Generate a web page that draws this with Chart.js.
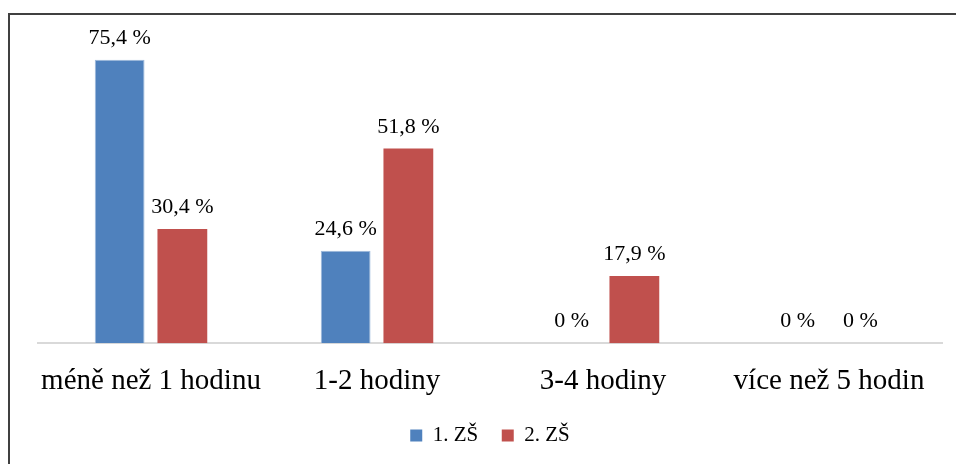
<!DOCTYPE html>
<html>
<head>
<meta charset="utf-8">
<script src="https://cdn.jsdelivr.net/npm/chart.js@4/dist/chart.umd.min.js"></script>
<style>
  html, body { margin: 0; padding: 0; background: #fff; overflow: hidden; }
  #wrap { position: absolute; left: 0; top: 0; width: 956px; height: 464px; }
  #frame { position: absolute; left: 8px; top: 13px; width: 1200px; height: 1200px;
           border-top: 2px solid #404040; border-left: 2px solid #404040; box-sizing: border-box; }
  canvas { position: absolute; left: 0; top: 0; }
</style>
</head>
<body>
<div id="wrap">
  <div id="frame"></div>
  <canvas id="c" width="956" height="464"></canvas>
</div>
<script>
const categories = ["méně než 1 hodinu", "1-2 hodiny", "3-4 hodiny", "více než 5 hodin"];
const seriesNames = ["1. ZŠ", "2. ZŠ"];
const zs1 = [75.4, 24.6, 0, 0];
const zs2 = [30.4, 51.8, 17.9, 0];
const colors = ["#4F81BD", "#C0504D"];

const FONT = "'Liberation Serif', 'Times New Roman', serif";

const labelPlugin = {
  id: 'valueLabels',
  afterDatasetsDraw(chart) {
    const ctx = chart.ctx;
    ctx.save();
    ctx.font = "22px " + FONT;
    ctx.fillStyle = "#000";
    ctx.textAlign = "center";
    ctx.textBaseline = "alphabetic";
    chart.data.datasets.forEach((ds, di) => {
      const meta = chart.getDatasetMeta(di);
      meta.data.forEach((bar, i) => {
        const v = ds.data[i];
        const txt = v.toFixed(1).replace('.', ',').replace(/,0$/, '') + " %";
        ctx.fillText(txt, bar.x, bar.y - 16);
      });
    });
    ctx.restore();
  }
};

new Chart(document.getElementById('c'), {
  type: 'bar',
  data: {
    labels: categories,
    datasets: [
      { label: seriesNames[0], data: zs1, backgroundColor: colors[0], borderColor: "#9DB9DC", borderWidth: {top:1,left:1,right:1,bottom:0},
        categoryPercentage: 0.555, barPercentage: 0.794 },
      { label: seriesNames[1], data: zs2, backgroundColor: colors[1], borderColor: colors[1], borderWidth: 0,
        categoryPercentage: 0.555, barPercentage: 0.794 }
    ]
  },
  options: {
    responsive: false,
    animation: false,
    devicePixelRatio: 1,
    layout: { padding: { left: 38, right: 14, top: 20, bottom: 8 } },
    plugins: {
      legend: {
        position: 'bottom',
        labels: {
          font: { family: FONT, size: 21 },
          color: "#000",
          boxWidth: 12, boxHeight: 12,
          padding: 13,
          generateLabels(chart) {
            const items = Chart.defaults.plugins.legend.labels.generateLabels(chart);
            items.forEach((it, i) => {
              it.lineWidth = 0;
              if (i < items.length - 1) it.text = it.text + "  ";
            });
            return items;
          }
        }
      },
      tooltip: { enabled: false },
      valueLabels: {}
    },
    scales: {
      x: {
        grid: { display: false },
        border: { display: true, color: "#D9D9D9", width: 2 },
        ticks: { font: { family: FONT, size: 29 }, color: "#000", padding: 13, maxRotation: 0 }
      },
      y: {
        display: false,
        min: 0, max: 86
      }
    }
  },
  plugins: [labelPlugin]
});
</script>
</body>
</html>
